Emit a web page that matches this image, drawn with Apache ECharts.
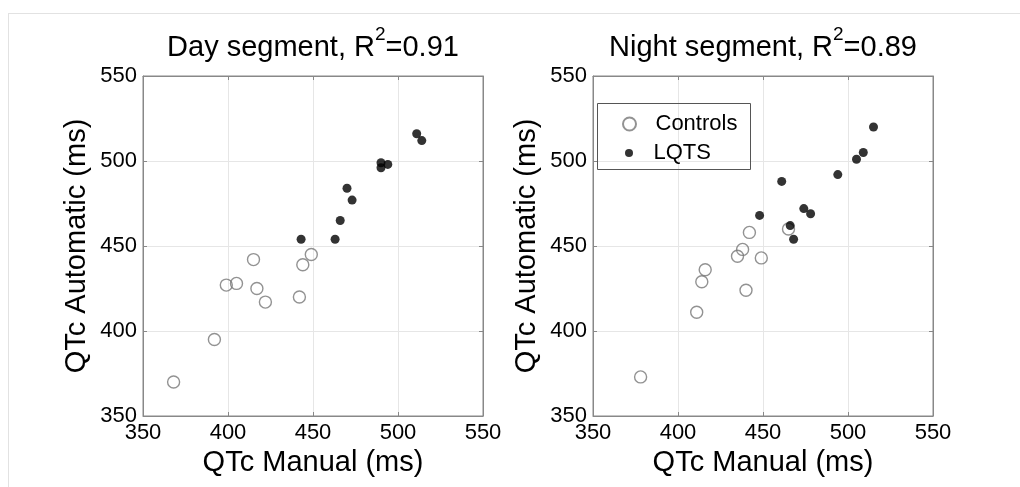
<!DOCTYPE html>
<html>
<head>
<meta charset="utf-8">
<script src="https://cdn.jsdelivr.net/npm/echarts@6/dist/echarts.min.js"></script>
<style>
html,body{margin:0;padding:0;background:#fff;}
#chart{width:1020px;height:487px;}
</style>
</head>
<body>
<div id="chart"></div>
<script>
// ---- data ----
var titles = ['Day segment, R{sup|2}=0.91', 'Night segment, R{sup|2}=0.89'];
var xAxisName = 'QTc Manual (ms)';
var yAxisName = 'QTc Automatic (ms)';
var seriesNames = ['Controls', 'LQTS'];
var axisMin = 350, axisMax = 550, axisStep = 50;

var dayControls = [[368,370],[392,395],[399,427],[405,428],[415,442],[417,425],[422,417],[442,420],[444,439],[449,445]];
var dayLQTS = [[443,454],[463,454],[466,465],[470,484],[473,477],[490,496],[490,499],[494,498],[511,516],[514,512]];
var nightControls = [[378,373],[411,411],[414,429],[416,436],[435,444],[438,448],[440,424],[442,458],[449,443],[465,460]];
var nightLQTS = [[448,468],[461,488],[466,462],[468,454],[474,472],[478,469],[494,492],[505,501],[509,505],[515,520]];

var FONT = '"Liberation Sans", Arial, Helvetica, sans-serif';
var chart = echarts.init(document.getElementById('chart'), null, {renderer: 'canvas'});

var grids = [
  {left: 143, top: 76, width: 340, height: 340},
  {left: 593, top: 76, width: 340, height: 340}
];

function axis(type, idx) {
  var isX = type === 'x';
  return {
    type: 'value', gridIndex: idx, min: axisMin, max: axisMax, interval: axisStep,
    name: isX ? xAxisName : yAxisName,
    nameLocation: 'middle',
    nameGap: isX ? 32 : 52,
    nameTextStyle: {fontFamily: FONT, fontSize: 29, color: '#000'},
    axisLine: {show: true, onZero: false, lineStyle: {color: '#888', width: 1}},
    axisTick: {show: true, inside: true, length: 4, lineStyle: {color: '#888'}},
    axisLabel: {fontFamily: FONT, fontSize: 22, color: '#000', margin: 6},
    splitLine: {show: true, lineStyle: {color: '#e6e6e6', width: 1}}
  };
}
function mirrorAxis(type, idx) {
  return {
    type: 'value', gridIndex: idx, min: axisMin, max: axisMax, interval: axisStep,
    position: type === 'x' ? 'top' : 'right',
    axisLine: {show: true, onZero: false, lineStyle: {color: '#888', width: 1}},
    axisTick: {show: true, inside: true, length: 4, lineStyle: {color: '#888'}},
    axisLabel: {show: false},
    splitLine: {show: false}
  };
}

var controlStyle = {color: 'rgba(255,255,255,0)', borderColor: '#777', borderWidth: 1.4};
var lqtsStyle = {color: '#000'};

var option = {
  backgroundColor: '#fff',
  animation: false,
  title: titles.map(function (t, i) {
    return {
      text: t,
      left: grids[i].left + grids[i].width / 2,
      textAlign: 'center',
      top: 25,
      padding: 0,
      textStyle: {
        fontFamily: FONT, fontSize: 29, fontWeight: 'normal', color: '#000', lineHeight: 46,
        rich: {sup: {fontFamily: FONT, fontSize: 19, color: '#000', verticalAlign: 'top', lineHeight: 20}}
      }
    };
  }),
  legend: [
    {data: [seriesNames[0]], orient: 'vertical', left: 622, top: 113, padding: 0,
     itemWidth: 42, itemHeight: 13, itemGap: 0,
     textStyle: {fontFamily: FONT, fontSize: 22, color: '#000'}},
    {data: [seriesNames[1]], orient: 'vertical', left: 625, top: 142, padding: 0,
     itemWidth: 39, itemHeight: 8, itemGap: 0,
     textStyle: {fontFamily: FONT, fontSize: 22, color: '#000'}}
  ],
  grid: grids.map(function (g) {
    return Object.assign({show: true, borderColor: '#888', borderWidth: 1, backgroundColor: '#fff'}, g);
  }),
  xAxis: [axis('x', 0), axis('x', 1), mirrorAxis('x', 0), mirrorAxis('x', 1)],
  yAxis: [axis('y', 0), axis('y', 1), mirrorAxis('y', 0), mirrorAxis('y', 1)],
  series: [
    {name: seriesNames[0], type: 'scatter', xAxisIndex: 0, yAxisIndex: 0, symbol: 'circle', symbolSize: 12, itemStyle: controlStyle, data: dayControls},
    {name: seriesNames[1], type: 'scatter', xAxisIndex: 0, yAxisIndex: 0, symbol: 'circle', symbolSize: 9, itemStyle: lqtsStyle, data: dayLQTS},
    {name: seriesNames[0], type: 'scatter', xAxisIndex: 1, yAxisIndex: 1, symbol: 'circle', symbolSize: 12, itemStyle: controlStyle, data: nightControls},
    {name: seriesNames[1], type: 'scatter', xAxisIndex: 1, yAxisIndex: 1, symbol: 'circle', symbolSize: 9, itemStyle: lqtsStyle, data: nightLQTS}
  ],
  graphic: [
    {type: 'line', shape: {x1: 8, y1: 13.5, x2: 1020, y2: 13.5}, style: {stroke: '#e2e2e2', lineWidth: 1}, silent: true},
    {type: 'line', shape: {x1: 8.5, y1: 13, x2: 8.5, y2: 487}, style: {stroke: '#e2e2e2', lineWidth: 1}, silent: true},
    {type: 'rect', shape: {x: 597.5, y: 103.5, width: 153, height: 66}, style: {fill: 'rgba(0,0,0,0)', stroke: '#555', lineWidth: 1}, z: 10, silent: true}
  ]
};
chart.setOption(option);
</script>
</body>
</html>
